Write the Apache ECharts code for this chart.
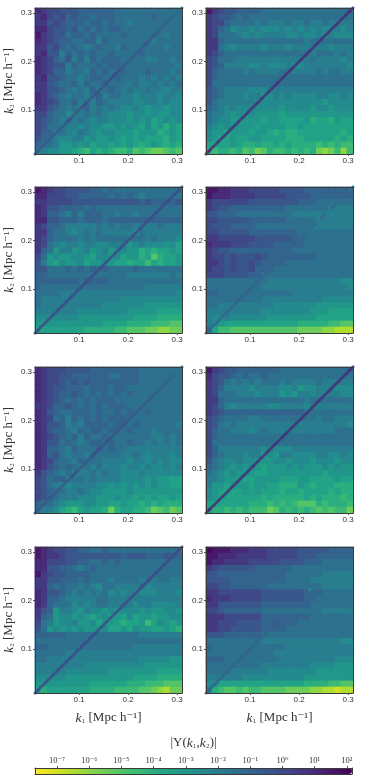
<!DOCTYPE html>
<html>
<head>
<meta charset="utf-8">
<style>html,body{margin:0;padding:0;background:#fff}#main{width:389px;height:777px}</style>
<script src="https://cdn.jsdelivr.net/npm/echarts@6/dist/echarts.min.js"></script>
</head>
<body>
<div id="main"></div>
<script>
// each char is one cell, top row first
// level n (base 36) means |Y| = 10^(2 - n/2)
var panelA = [
"234455566666677777777777","324546566766677777767777","335456667667677877777777","224556576767667777777777",
"134557667677776777777877","234566776686777777787777","335467678767786777777877","325586767677677776777777",
"234675868676667777887787","234558677767667777777778","234668778676776777677787","325567787667767778787878",
"335677686776777878878787","335567878687678788788988","235678778768778898889889","234577687867888899889899",
"335678786878789989a99a99","446779887878999a99a9aa99","456787878988999a9a9ba9a9","45778889899aa9a9ab9bacab",
"4668789789a99aaabaaacbab","56789988a9aa9abababbbcab","6778aa9a9baabababcbabcbc","8899aabcdbcbcddcedeffede"];
var panelB = [
"134556666777777777777777","345567677777777777777777","344677778788878878878888","346798898999898989899898",
"347778989888899899898999","336777777777777787777777","337898888988898888889888","346777777777777778777878",
"457778888888888887888898","456888899899989988888889","467777878888778888787788","467777777777777777777777",
"477777777777777777777777","567888899988888888888888","567888988a98989999889989","5788888899999999999a9999",
"678989999999a9999a99a999","7889a9a9aaaabaaaaaaaaaaa","7899aaaaabaabbbbacbbcabb","89a9aaaabaaaabbabbbbbbbb",
"9aabaaabaabcbccbbbbbbbcb","9abbabbaabbbbcccbbbbbcbc","bbbbabccbccbcbccccdcdcdd","cdccdcedfecddcdcdcfgfdgd"];
var panelC = [
"123445555667677777777777","224445566666767678777777","334444555555555556566665","235566667677777777777777",
"236678686667787787777777","225566676667666666666666","346678888878787788887888","336778987878888897888888",
"346777787877777877878889","347898898899888a98999a9b","367a88a98a98a99aacbcbbab","47a9aa99ab99a9baacbecbba",
"58ab9aa9baa9abbcbbdbcbba","557776767676777767777777","667777777777777888888878","666666676666777777777777",
"677777777777777777888888","777788888888888888888889","788888888888889999999999","788888888889999999aaaaaa",
"888888899999999aaaaabbbb","9999999aaaaaaaaabbbbcccc","aaaaaaaaaaabbbbccccdddee","bbbbbbbbcccccddeeeffggff"];
var panelD = [
"112233344444555566666666","122233334444455556666666","344444455555555666777777","345566666666677777778888",
"556667777777778888888888","445555566666677777888888","455566667777777778888888","445555566666666777777777",
"334444445555556677777777","233344455556666677777777","345566666666667777777777","344545554566666666777777",
"334545545666677777777777","344545546667777777777777","444555566777777777777777","777777777788888888888899",
"777777777888888888888889","667777777777778888888888","777777777888888888899999","778888888889999999aaaaaa",
"88888888899999999aaabbbb","8998999999aaaaaaaabbbbbb","89abbbbbbbbbbbbcccccddee","7bddeeeeeeeeeeeffffgghhh"];
var panelE = [
"234445555666666667777777","234455666666776667777777","234456565666666667777777","234556667666766777777777",
"234566567676767677777777","234567676766677777777777","334665676767666777777777","235677666767767677677777",
"234768676767666777777777","235568786666766767777778","235667867667667677787777","234567686776777777788787",
"235576787667677677878787","236678677767677888888888","236578778777778878988898","234677867778888988989899",
"235676787878889889899898","356787888787889998999999","457668778788889999a9aabb","457899888899a9a9a9a9aabb",
"45677887899aaaa9aaaaaaaa","4567888999aaa9aabababbab","67789aaa99aabbabbcbcbccc","7889bcdbabbcfcbbccdfedfe"];
var panelF = [
"134556666666777777777777","245567677677777777777777","345787878777878888788888","346888898888998a99888999",
"347778889888a9a889898899","336777777777777787777777","346898888899888898888888","345666666666666677777777",
"456777788777777777877888","457878888888888888888889","467788898788888888888777","467777777777777777777777",
"477777777777777777777777","468888888989998888888888","467888988a9a889999889989","57899899aaa99a999a999a99",
"6789a9a9abaaa9a9aaa9a9aa","789a9aaabbaaaaaaaaabaaaa","889aaabbaaaabbbaabbbbabb","8aabaaabaabbcccabcbbbccc",
"9abbbbababbbcbbcbbbbcbcc","9abbbbbbbcbcccccbcbcccdc","bbbbbbbcccdcdcdeeecdcccd","bccdcdcdddfecdcdcdededdf"];
var panelG = [
"123445566776777777777777","123345555555556555666566","224445566776767777777777","225566787677777777777777",
"134556666777777777777777","335566676777877778787788","336767787897788887988888","235567878787989889998889",
"236678888877888888888888","236777989877888898899998","356a889a899a9a999a9aa99a","367a99a9aba9bab9baabaa99",
"478a998aa9baabcbbadb9aba","57a9a9a9aaa9bbab9aabbabc","666667777777777778888888","777777777777777777777777",
"667777777777777788888888","777778888888888888888888","7788888888888888899999aa","888888889999999999aaaaaa",
"888889999999aaaaaaaabbbb","99999aaaaaaaaaaabbbbcccc","aaaaaaaaabbbbbbcccdddeee","bcbbbbbbbccccddddeefghff"];
var panelH = [
"011122233344444555556666","112223333344444555666666","122333344444555566677777","345555556666667777777777",
"556666666666677777788888","555566666666677778888888","445566666677777777788888","334444444555555566677777",
"233344444555555566777777","335555555666666667777777","445666666777777777788888","333444444666666667777777",
"334445555665666777777777","334455555666677777777777","555666666777777777777777","777777777888888888888899",
"677777777777788888888888","777777777778888888888888","666777777777888888888999","777777777888888889999aaa",
"777788888899999999aaaaaa","8888889999999999aaaaaaaa","99bbbbbbbbbbbbbbccccddee","8cdeededdeeeeffffgghhihh"];

// diagonal k1 = k2, low k first, '.' where it cannot be told from the background
var diagK = [0.0135,0.02,0.03,0.04,0.05,0.06,0.07,0.08,0.09,0.10,0.11,0.12,0.13,0.14,0.15,0.16,0.17,0.18,0.19,0.20,0.21,0.22,0.23,0.24,0.25,0.26,0.27,0.28,0.29,0.30,0.3065];
var diagA = "5555555455455454445555555566667";
var diagB = "2222222222222222222222222222222";
var diagC = "4444444444444444444444444444445";
var diagD = "6666666666666666.6.66.6.6.6.6.7";
var diagE = "5555555545554454555555555666677";
var diagF = "2222222222222222222222222222222";
var diagG = "4444444444444444444444444444444";
var diagH = "666666666666666.......7........";
// the one bright dot on the diagonal of the last panel
var spotH = [[0.222, 0.222, -3]];

var panels = [panelA, panelB, panelC, panelD, panelE, panelF, panelG, panelH];
var diags = [diagA, diagB, diagC, diagD, diagE, diagF, diagG, diagH];
var kTicks = [0.1, 0.2, 0.3];
var cbTicks = [-7, -6, -5, -4, -3, -2, -1, 0, 1, 2];
var cbLabels = ['10⁻⁷','10⁻⁶','10⁻⁵','10⁻⁴','10⁻³','10⁻²','10⁻¹','10⁰','10¹','10²'];

var viridisR = ['#fde725','#bddf26','#7ad151','#44bf70','#22a884','#21918c','#2a788e','#355f8d','#414487','#482475','#440154'];
var lefts = [35, 206];
var tops = [8, 187, 367, 547];
var sans = '"Liberation Sans", Arial, sans-serif';
var serif = '"Liberation Serif", "DejaVu Serif", serif';
var lineCol = '#3a3a3a';
var cells = [];
for (var n = 0; n < 24; n++) cells.push(n);

function level(c) {
    return 2 - parseInt(c, 36) / 2;
}
function kName(sub) {
    return '{i|k}{s|' + sub + '}{n| [Mpc h⁻¹]}';
}
var nameRich = {
    i: { fontFamily: serif, fontStyle: 'italic', fontSize: 13.5, color: '#333' },
    s: { fontFamily: serif, fontSize: 11, color: '#333' },
    n: { fontFamily: serif, fontSize: 13, color: '#333' }
};

var grids = [], xAxes = [], yAxes = [], series = [];
panels.forEach(function (rows, p) {
    var col = p % 2, row = Math.floor(p / 2);
    grids.push({ left: lefts[col], top: tops[row], width: 147, height: 146, outerBoundsMode: 'none' });

    // value axes carry ticks and labels, category axes carry the cells and close the frame
    xAxes.push({
        gridIndex: p, type: 'value', position: 'bottom', min: 0.01, max: 0.31, z: 5,
        splitLine: { show: false },
        axisLine: { onZero: false, lineStyle: { color: lineCol, width: 1 } },
        axisTick: { length: 2, customValues: kTicks, lineStyle: { color: '#555' } },
        axisLabel: { customValues: kTicks, margin: 3, fontSize: 8, fontFamily: sans, color: '#333', formatter: function (v) { return v.toFixed(1); } },
        name: row === 3 ? kName('₁') : '', nameLocation: 'middle', nameGap: 18, nameMoveOverlap: false, nameTextStyle: { rich: nameRich }
    });
    yAxes.push({
        gridIndex: p, type: 'value', position: 'left', min: 0.01, max: 0.31, z: 5,
        splitLine: { show: false },
        axisLine: { onZero: false, lineStyle: { color: lineCol, width: 1 } },
        axisTick: { length: 2, customValues: kTicks, lineStyle: { color: '#555' } },
        axisLabel: { customValues: kTicks, margin: 3, fontSize: 8, fontFamily: sans, color: '#333', formatter: function (v) { return v.toFixed(1); } },
        name: col === 0 ? kName('₂') : '', nameLocation: 'middle', nameGap: 19, nameRotate: 90, nameMoveOverlap: false, nameTextStyle: { rich: nameRich }
    });
    xAxes.push({
        gridIndex: p, type: 'category', position: 'top', data: cells, z: 5,
        axisLine: { onZero: false, lineStyle: { color: lineCol, width: 1 } },
        axisTick: { show: false }, axisLabel: { show: false }, splitLine: { show: false }
    });
    yAxes.push({
        gridIndex: p, type: 'category', position: 'right', data: cells, z: 5,
        axisLine: { onZero: false, lineStyle: { color: lineCol, width: 1 } },
        axisTick: { show: false }, axisLabel: { show: false }, splitLine: { show: false }
    });

    var hm = [];
    rows.forEach(function (str, r) {
        for (var i = 0; i < str.length; i++) hm.push([i, 23 - r, level(str.charAt(i))]);
    });
    // drawn twice so the seams between cells do not show
    for (var t = 0; t < 2; t++) {
        series.push({
            type: 'heatmap', xAxisIndex: 2 * p + 1, yAxisIndex: 2 * p + 1, data: hm, silent: true,
            progressive: 0, animation: false
        });
    }
    var dg = [];
    diagK.forEach(function (k, i) {
        var c = diags[p].charAt(i);
        if (c !== '.' && c !== '') dg.push([k, k, level(c)]);
    });
    series.push({
        type: 'scatter', xAxisIndex: 2 * p, yAxisIndex: 2 * p, symbol: 'rect', symbolSize: [7.4, 2.8], symbolRotate: 45,
        silent: true, clip: true, z: 3, animation: false, data: dg
    });
    if (p === 7) {
        series.push({
            type: 'scatter', xAxisIndex: 2 * p, yAxisIndex: 2 * p, symbol: 'circle', symbolSize: 3.5,
            silent: true, z: 4, animation: false, data: spotH
        });
    }
});

// colourbar axes, the bar itself is the visualMap
var cb = grids.length;
grids.push({ left: 35, top: 768, width: 317, height: 6, outerBoundsMode: 'none' });
xAxes.push({
    gridIndex: cb, type: 'value', position: 'top', min: -7.68, max: 2.16, z: 6,
    splitLine: { show: false },
    axisLine: { onZero: false, lineStyle: { color: lineCol } },
    axisTick: { length: 2, customValues: cbTicks, lineStyle: { color: '#555' } },
    axisLabel: { customValues: cbTicks, margin: 3, fontSize: 8.5, fontFamily: serif, color: '#333',
        formatter: function (v) { return cbLabels[cbTicks.indexOf(Math.round(v))]; } },
    name: '{n||Y(}{i|k}{s|₁}{n|,}{i|k}{s|₂}{n|)|}', nameLocation: 'middle', nameGap: 18, nameMoveOverlap: false,
    nameTextStyle: { rich: nameRich }
});
xAxes.push({
    gridIndex: cb, type: 'value', position: 'bottom', min: -7.68, max: 2.16, z: 6,
    splitLine: { show: false }, axisTick: { show: false }, axisLabel: { show: false },
    axisLine: { onZero: false, lineStyle: { color: lineCol } }
});
yAxes.push({
    gridIndex: cb, type: 'value', position: 'left', min: 0, max: 1, z: 6,
    splitLine: { show: false }, axisTick: { show: false }, axisLabel: { show: false },
    axisLine: { onZero: false, lineStyle: { color: lineCol } }
});
yAxes.push({
    gridIndex: cb, type: 'value', position: 'right', min: 0, max: 1, z: 6,
    splitLine: { show: false }, axisTick: { show: false }, axisLabel: { show: false },
    axisLine: { onZero: false, lineStyle: { color: lineCol } }
});

var myChart = echarts.init(document.getElementById('main'), null, { renderer: 'canvas' });
var option = {
    animation: false,
    backgroundColor: '#fff',
    grid: grids,
    xAxis: xAxes,
    yAxis: yAxes,
    visualMap: {
        type: 'continuous', min: -7.68, max: 2.16, dimension: 2, orient: 'horizontal',
        left: 35, top: 768, itemWidth: 6, itemHeight: 317, padding: 0, calculable: false, hoverLink: false,
        text: null, realtime: false, inRange: { color: viridisR }
    },
    series: series
};
myChart.setOption(option);
</script>
</body>
</html>
